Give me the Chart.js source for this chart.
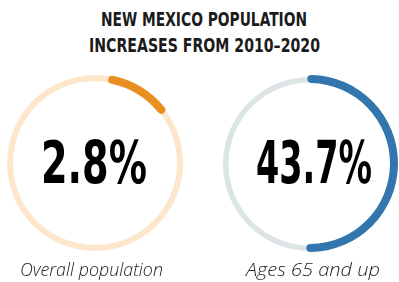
<!DOCTYPE html>
<html>
<head>
<meta charset="utf-8">
<script src="https://cdn.jsdelivr.net/npm/chart.js@4.4.1/dist/chart.umd.min.js"></script>
<style>
    html, body { margin: 0; padding: 0; background: #fff; }
    #wrap { position: relative; width: 399px; height: 282px; overflow: hidden; }
    canvas { position: absolute; }
    .txt { position: absolute; white-space: nowrap; transform-origin: 0 0; }
    .title {
        font-family: "DejaVu Sans Condensed", sans-serif;
        font-weight: bold; font-size: 20px; color: #1b1b1b; line-height: 20px;
    }
    .big {
        font-family: "DejaVu Sans Condensed", sans-serif; font-weight: bold;
        font-size: 59px; color: #000; line-height: 59px;
    }
    .cap {
        font-family: "Open Sans", sans-serif; font-style: italic; font-weight: 300;
        font-size: 18px; color: #222; line-height: 18px;
    }
</style>
</head>
<body>
<div id="wrap"></div>
<script>
    const titleLines = ['NEW MEXICO POPULATION', 'INCREASES FROM 2010–2020'];
    // labels under each ring, big figures in the middle
    const categories = ['Overall population', 'Ages 65 and up'];
    const values = [2.8, 43.7];
    // highlighted arc: where it starts and how much of the circle it covers (percent of circle)
    const arcStart = [2.5, -0.4];
    const arcShare = [12.5, 51];
    const arcColors = ['#e98f21', '#3276ad'];
    const trackColors = ['#fde6cc', '#dce5e6'];

    // ring geometry (centre x, centre y, track outer radius, track width, arc outer radius, arc width)
    const rings = [
        { cx: 94.5, cy: 163, r: 88, w: 6, ar: 89, aw: 8 },
        { cx: 309.5, cy: 163.7, r: 87, w: 5.5, ar: 88.5, aw: 8 }
    ];

    const wrap = document.getElementById('wrap');

    // place a text line centred on cx, squeezed to a given width
    const placeText = (cls, text, cx, top, width) => {
        const el = document.createElement('div');
        el.className = 'txt ' + cls;
        el.textContent = text;
        wrap.appendChild(el);
        const w = el.getBoundingClientRect().width;
        const sx = width / w;
        el.style.left = (cx - width / 2) + 'px';
        el.style.top = top + 'px';
        el.style.transform = `scaleX(${sx})`;
        return el;
    };

    const makeCanvas = (cx, cy, r) => {
        const c = document.createElement('canvas');
        const size = Math.round(r * 2);
        c.width = size;
        c.height = size;
        c.style.width = size + 'px';
        c.style.height = size + 'px';
        c.style.left = (cx - size / 2) + 'px';
        c.style.top = (cy - size / 2) + 'px';
        wrap.appendChild(c);
        return c.getContext('2d');
    };

    const baseOptions = {
        responsive: false,
        animation: false,
        events: [],
        plugins: { legend: { display: false }, tooltip: { enabled: false } },
        layout: { padding: 0 }
    };

    // Title
    placeText('title', titleLines[0], 204.3, 9, 206);
    placeText('title', titleLines[1], 204, 35, 231);

    categories.forEach((cat, i) => {
        const g = rings[i];

        // Track (full light ring)
        new Chart(makeCanvas(g.cx, g.cy, g.r), {
            type: 'doughnut',
            data: {
                labels: [cat],
                datasets: [{ data: [100], backgroundColor: [trackColors[i]], borderWidth: 0 }]
            },
            options: { ...baseOptions, cutout: ((g.r - g.w) / g.r * 100) + '%' }
        });

        // Highlighted arc
        new Chart(makeCanvas(g.cx, g.cy, g.ar), {
            type: 'doughnut',
            data: {
                labels: [cat, ''],
                datasets: [{
                    data: [arcShare[i], 100 - arcShare[i]],
                    backgroundColor: [arcColors[i], 'rgba(0,0,0,0)'],
                    borderWidth: 0,
                    borderRadius: [g.aw / 2, 0]
                }]
            },
            options: {
                ...baseOptions,
                rotation: arcStart[i] * 3.6,
                cutout: ((g.ar - g.aw) / g.ar * 100) + '%'
            }
        });

        // Centre figure
        placeText('big', values[i] + '%', i ? 314 : 94.2, 133, i ? 116 : 106);

        // Caption
        placeText('cap', cat, i ? 313.4 : 91, 260, i ? 134 : 143);
    });
</script>
</body>
</html>
